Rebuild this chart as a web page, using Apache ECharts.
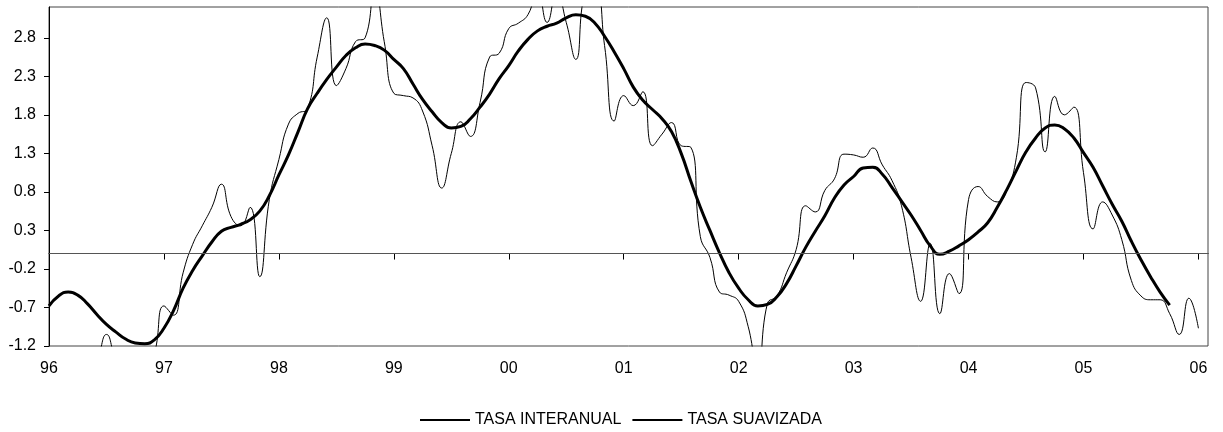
<!DOCTYPE html>
<html>
<head>
<meta charset="utf-8">
<script src="https://cdn.jsdelivr.net/npm/echarts@6/dist/echarts.min.js"></script>
<style>
html,body{margin:0;padding:0;background:#fff;}
#chart{width:1223px;height:432px;}
</style>
</head>
<body>
<div id="chart"></div>
<script>
// Monthly data, Jan 1996 (index 0) ... Jan 2006 (index 120)
const xTickMonths = [0, 12, 24, 36, 48, 60, 72, 84, 96, 108, 120];
const xTickLabels = ['96', '97', '98', '99', '00', '01', '02', '03', '04', '05', '06'];
const yTickValues = [-1.2, -0.7, -0.2, 0.3, 0.8, 1.3, 1.8, 2.3, 2.8];

const tasaInteranual = [
  -1.40, -1.50, -1.60, -1.62, -1.55, -1.38, -1.05, -1.38, -1.55, -1.62, -1.55, -1.30,
  -0.68, -0.80, -0.25, 0.12, 0.36, 0.60, 0.90, 0.48, 0.36, 0.60, -0.30, 0.70,
  1.22, 1.68, 1.82, 1.88, 2.55, 3.06, 2.18, 2.40, 2.75, 2.80, 3.45, 2.75,
  2.08, 2.05, 2.02, 1.85, 1.40, 0.85, 1.30, 1.71, 1.52, 1.96, 2.55, 2.60,
  2.92, 2.99, 3.10, 3.40, 3.00, 3.40, 3.00, 2.52, 3.40, 3.45, 2.70, 1.72,
  2.05, 1.92, 2.10, 1.40, 1.55, 1.70, 1.40, 1.38, 0.22, -0.05, -0.50, -0.54,
  -0.62, -0.95, -1.55, -0.65, -0.55, -0.25, 0.05, 0.62, 0.54, 0.82, 0.97, 1.29,
  1.28, 1.25, 1.37, 1.15, 0.95, 0.62, -0.05, -0.62, 0.13, -0.78, -0.26, -0.52,
  0.70, 0.87, 0.74, 0.67, 0.82, 1.25, 2.22, 2.15, 1.32, 2.04, 1.80, 1.90,
  1.05, 0.32, 0.67, 0.50, 0.18, -0.35, -0.55, -0.60, -0.60, -0.78, -1.05, -0.58,
  -0.97
];

const tasaSuavizada = [
  -0.68, -0.55, -0.50, -0.54, -0.65, -0.79, -0.92, -1.02, -1.11, -1.16, -1.17, -1.12,
  -0.97, -0.74, -0.45, -0.22, -0.03, 0.15, 0.29, 0.34, 0.38, 0.44, 0.55, 0.75,
  1.02, 1.28, 1.58, 1.88, 2.08, 2.26, 2.42, 2.57, 2.67, 2.72, 2.70, 2.64,
  2.52, 2.40, 2.20, 2.00, 1.84, 1.70, 1.63, 1.65, 1.75, 1.90, 2.07, 2.27,
  2.44, 2.63, 2.78, 2.89, 2.95, 2.99, 3.06, 3.10, 3.08, 2.99, 2.82, 2.62,
  2.40, 2.16, 1.99, 1.87, 1.75, 1.58, 1.30, 0.94, 0.60, 0.30, 0.01, -0.25,
  -0.45, -0.60, -0.68, -0.66, -0.56, -0.39, -0.16, 0.08, 0.29, 0.49, 0.72, 0.89,
  1.00, 1.11, 1.12, 1.03, 0.86, 0.68, 0.50, 0.30, 0.10, -0.01, 0.03, 0.10,
  0.18, 0.28, 0.40, 0.60, 0.83, 1.08, 1.32, 1.50, 1.63, 1.67, 1.62, 1.50,
  1.31, 1.12, 0.88, 0.64, 0.42, 0.16, -0.08, -0.30, -0.50, -0.67
];

const toPairs = arr => arr.map((v, i) => [i, v]);
const font = '"Liberation Sans", Arial, sans-serif';

const chart = echarts.init(document.getElementById('chart'), null, {renderer: 'canvas'});
chart.setOption({
  animation: false,
  backgroundColor: '#ffffff',
  grid: {
    left: 49, right: 15, top: 7, bottom: 86,
    show: true, borderColor: '#444', borderWidth: 1, backgroundColor: 'transparent'
  },
  legend: {
    left: 414, top: 407,
    itemWidth: 50, itemHeight: 14, itemGap: 10,
    itemStyle: {opacity: 0},
    textStyle: {fontFamily: font, fontSize: 16, color: '#000'},
    data: ['TASA INTERANUAL', 'TASA SUAVIZADA']
  },
  xAxis: {
    type: 'value', min: 0, max: 121,
    axisLine: {show: true, lineStyle: {color: '#000', width: 1}},
    axisTick: {show: true, length: 6, lineStyle: {color: '#000'}, customValues: xTickMonths},
    axisLabel: {
      customValues: xTickMonths, margin: 15,
      fontFamily: font, fontSize: 16, color: '#000',
      formatter: v => xTickLabels[xTickMonths.indexOf(Math.round(v))] || ''
    },
    splitLine: {show: false}
  },
  yAxis: {
    type: 'value', min: -1.2, max: 3.2,
    axisLine: {show: true, lineStyle: {color: '#000', width: 1}},
    axisTick: {show: true, length: 5, lineStyle: {color: '#000'}, customValues: yTickValues},
    axisLabel: {
      customValues: yTickValues, margin: 13,
      fontFamily: font, fontSize: 16, color: '#000',
      formatter: v => v.toFixed(1)
    },
    splitLine: {show: false}
  },
  series: [
    {
      name: 'TASA INTERANUAL', type: 'line', data: toPairs(tasaInteranual),
      smooth: 0.5, symbol: 'none', clip: true,
      lineStyle: {color: '#000', width: 1}, itemStyle: {color: '#000'},
      markLine: {
        silent: true, symbol: 'none', label: {show: false},
        lineStyle: {color: '#555', width: 1, type: 'solid'},
        data: [{yAxis: 0}]
      },
      z: 3
    },
    {
      name: 'TASA SUAVIZADA', type: 'line', data: toPairs(tasaSuavizada),
      smooth: 0.5, symbol: 'none', clip: true,
      lineStyle: {color: '#000', width: 3}, itemStyle: {color: '#000'},
      z: 4
    }
  ]
});
</script>
</body>
</html>
